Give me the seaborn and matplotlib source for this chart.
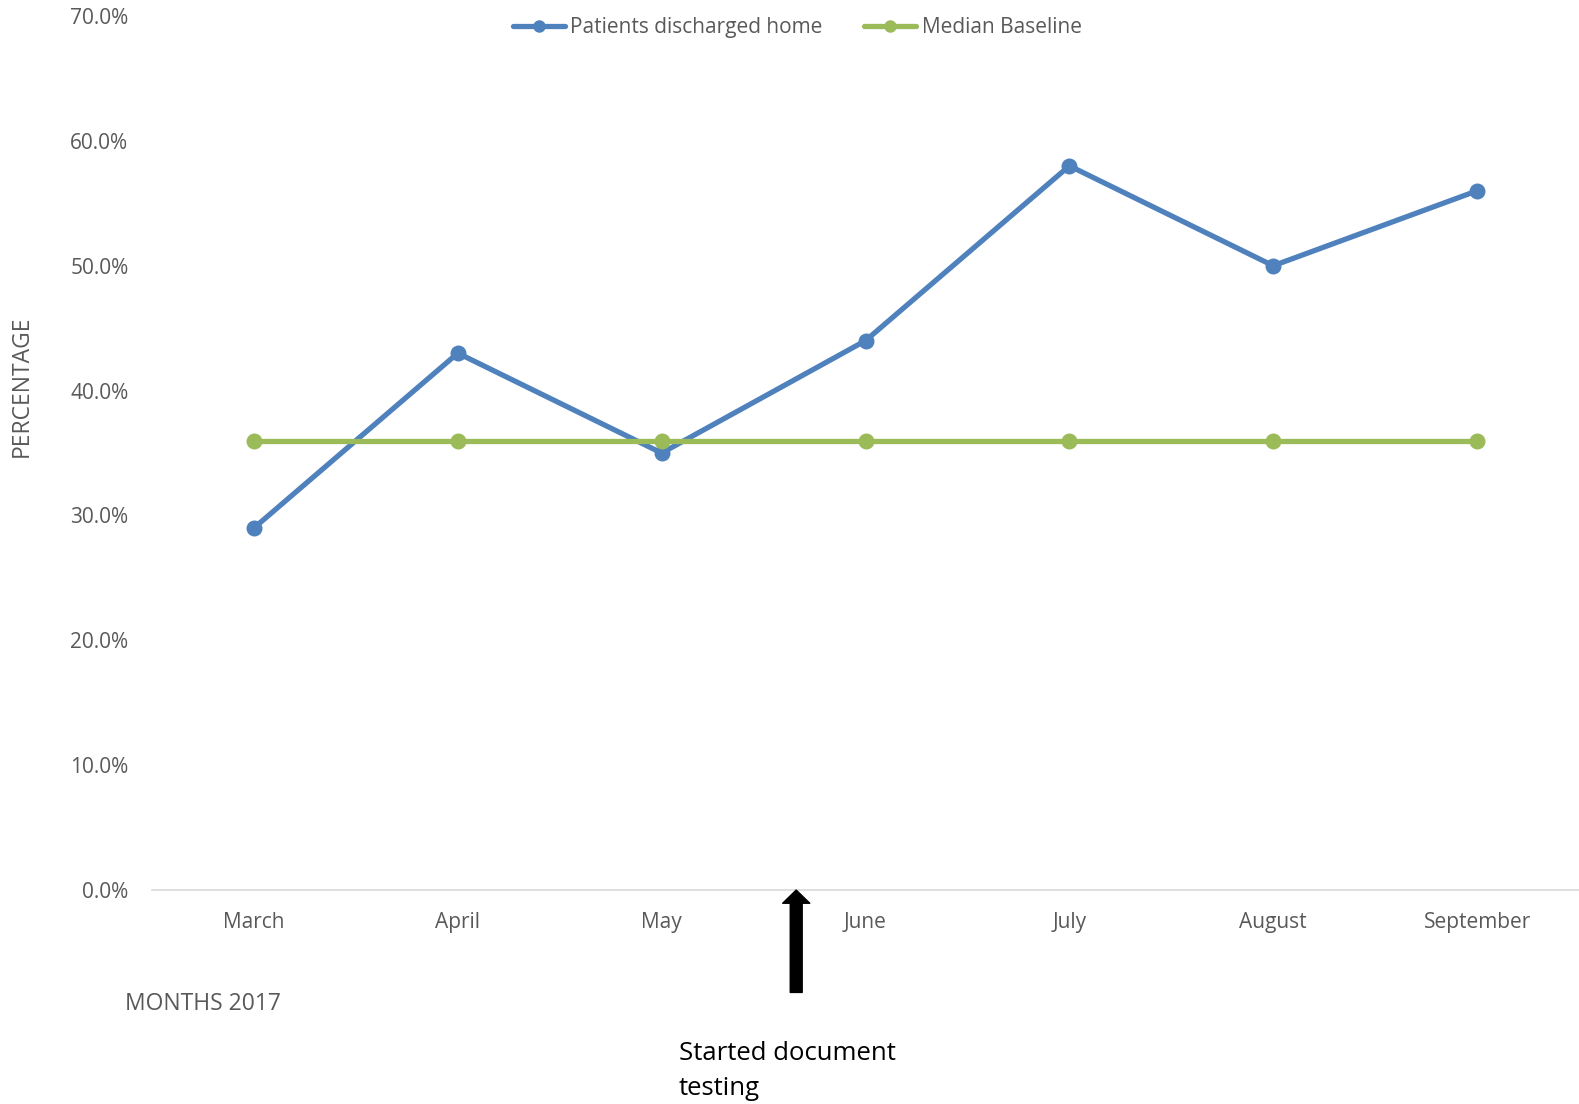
import matplotlib
matplotlib.use('Agg')
import matplotlib.pyplot as plt
import seaborn as sns
import pandas as pd
from matplotlib.lines import Line2D
from matplotlib.ticker import FuncFormatter

months = ["March", "April", "May", "June", "July", "August", "September"]
discharged = [29, 43, 35, 44, 58, 50, 56]
baseline = [36, 36, 36, 36, 36, 36, 36]
series_names = ["Patients discharged home", "Median Baseline"]
colors = ["#4F81BD", "#9BBB59"]

df = pd.DataFrame({
    "Month": months * 2,
    "Value": discharged + baseline,
    "Series": [series_names[0]] * len(months) + [series_names[1]] * len(months),
})

sns.set_theme(style="white")
plt.rcParams['font.family'] = ['Open Sans', 'DejaVu Sans']
grey = "#595959"

fig = plt.figure(figsize=(15.79, 11.04), dpi=100)
ax = fig.add_axes([0.0963, 0.1938, 0.9037, 0.7917])

sns.lineplot(data=df, x="Month", y="Value", hue="Series",
             palette=dict(zip(series_names, colors)), hue_order=series_names,
             marker="o", markersize=11.5, markeredgewidth=0, linewidth=3.8,
             sort=False, ax=ax, legend=False)
for ln in ax.lines:
    ln.set_clip_on(False)

ax.set_xlim(-0.5, len(months) - 0.5)
ax.set_ylim(0, 70)
ax.set_yticks(range(0, 71, 10))
ax.yaxis.set_major_formatter(FuncFormatter(lambda v, p: f"{v:.1f}%"))
ax.set_xlabel("")
ax.set_ylabel("")
for s in ["top", "right", "left"]:
    ax.spines[s].set_visible(False)
ax.spines["bottom"].set_color("#D9D9D9")
ax.spines["bottom"].set_linewidth(1.2)
ax.tick_params(axis="both", length=0, labelsize=15, labelcolor=grey)
ax.tick_params(axis="x", pad=16)
ax.tick_params(axis="y", pad=17)

handles = [Line2D([0], [0], color=c, lw=3.8, marker="o", markersize=9,
                  markeredgewidth=0) for c in colors]
ax.legend(handles, series_names, loc="center", bbox_to_anchor=(0.505, 0.975),
          bbox_transform=fig.transFigure, ncol=2, frameon=False, fontsize=15,
          handlelength=2.5, handletextpad=0.25, columnspacing=2.0, labelcolor=grey)

fig.text(22 / 1579, 1 - 386 / 1104, "PERCENTAGE", rotation=90, ha="center",
         va="center", fontsize=16.5, color=grey)
fig.text(125 / 1579, 1 - 1004 / 1104, "MONTHS 2017", ha="left", va="center",
         fontsize=16.5, color=grey)

ax.annotate("", xy=(2.66, 0), xytext=(2.66, -8.2), xycoords="data",
            arrowprops=dict(facecolor="black", edgecolor="black", width=8.6,
                            headwidth=19.5, headlength=9.5, shrink=0),
            annotation_clip=False)
fig.text(679 / 1579, 1 - 1071 / 1104, "Started document\ntesting", ha="left",
         va="center", fontsize=18.5, color="black", linespacing=1.5)

fig.savefig("out.png", dpi=100)
